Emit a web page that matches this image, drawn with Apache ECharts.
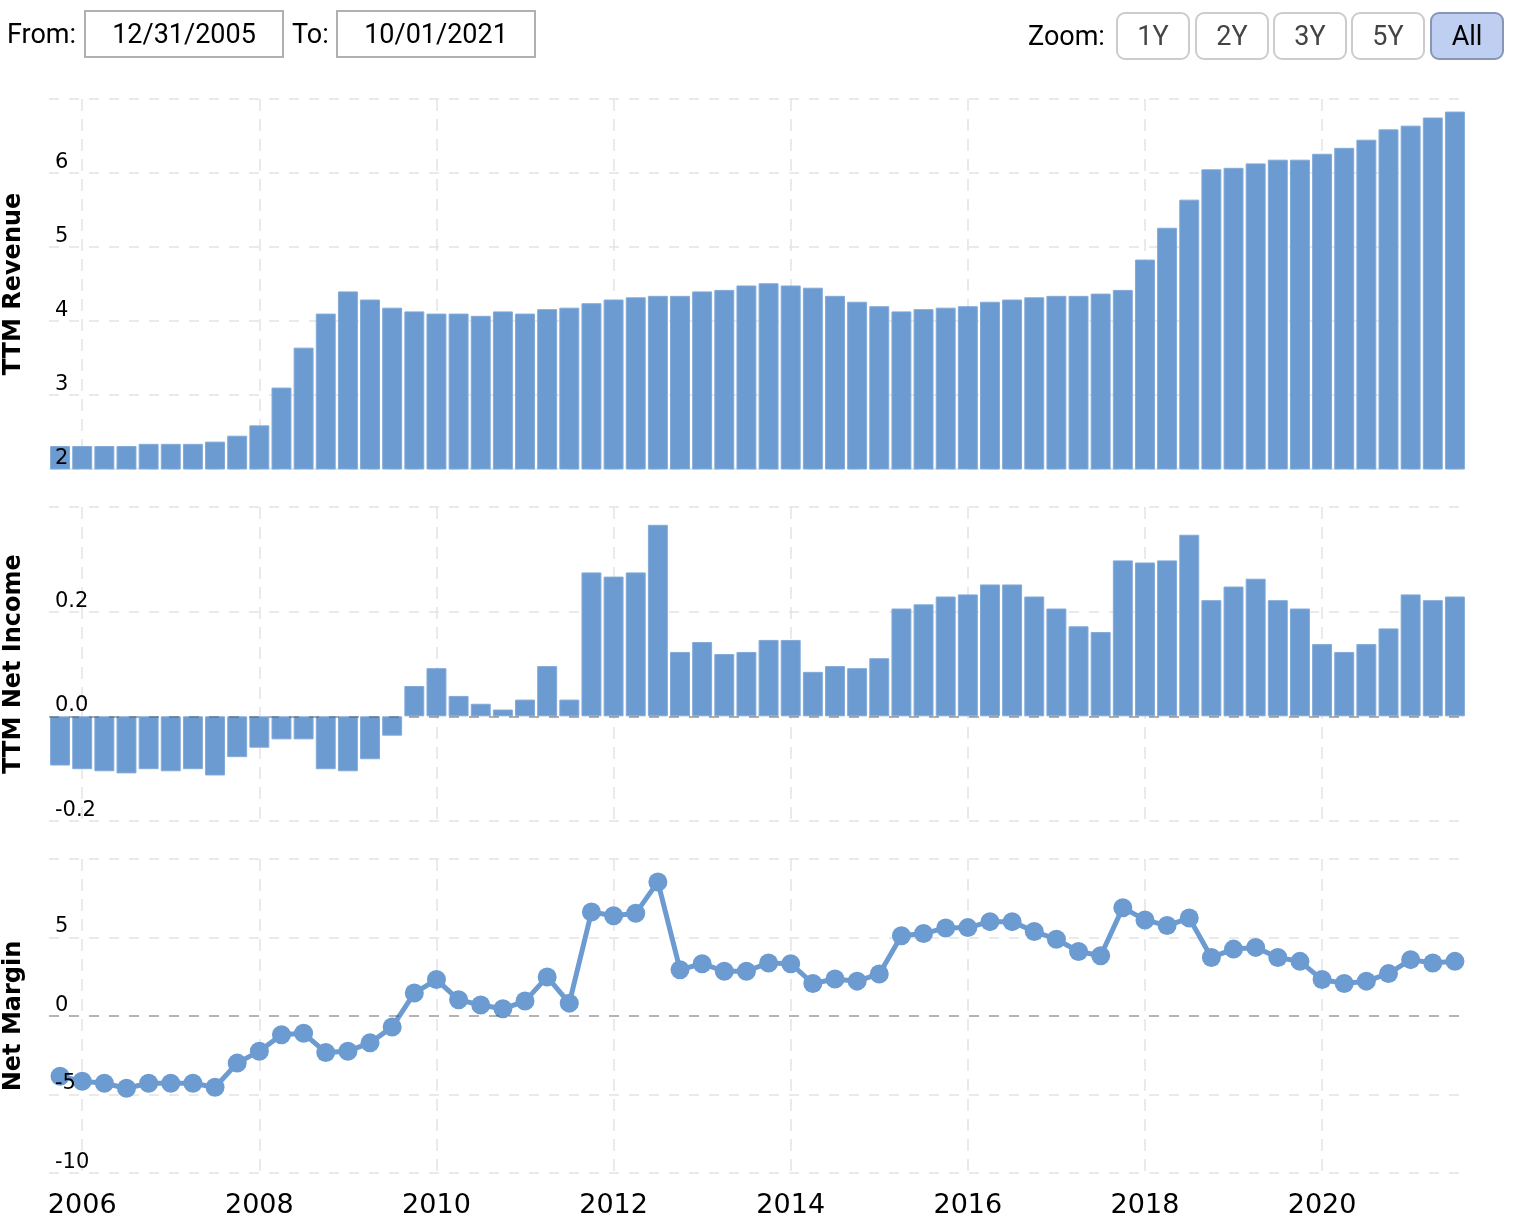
<!DOCTYPE html>
<html><head><meta charset="utf-8">
<script src="https://cdn.jsdelivr.net/npm/echarts@6/dist/echarts.min.js"></script>
<style>html,body{margin:0;padding:0;background:#fff}#c{width:1518px;height:1218px}</style>
</head><body><div id="c"></div>
<script>
const quarters = [
"2005-09-30","2005-12-31",
"2006-03-31","2006-06-30","2006-09-30","2006-12-31",
"2007-03-31","2007-06-30","2007-09-30","2007-12-31",
"2008-03-31","2008-06-30","2008-09-30","2008-12-31",
"2009-03-31","2009-06-30","2009-09-30","2009-12-31",
"2010-03-31","2010-06-30","2010-09-30","2010-12-31",
"2011-03-31","2011-06-30","2011-09-30","2011-12-31",
"2012-03-31","2012-06-30","2012-09-30","2012-12-31",
"2013-03-31","2013-06-30","2013-09-30","2013-12-31",
"2014-03-31","2014-06-30","2014-09-30","2014-12-31",
"2015-03-31","2015-06-30","2015-09-30","2015-12-31",
"2016-03-31","2016-06-30","2016-09-30","2016-12-31",
"2017-03-31","2017-06-30","2017-09-30","2017-12-31",
"2018-03-31","2018-06-30","2018-09-30","2018-12-31",
"2019-03-31","2019-06-30","2019-09-30","2019-12-31",
"2020-03-31","2020-06-30","2020-09-30","2020-12-31",
"2021-03-31","2021-06-30"];

const revenue = [2.31,2.31,2.31,2.31,2.34,2.34,2.34,2.37,2.45,2.59,
3.10,3.64,4.10,4.40,4.29,4.18,4.13,4.10,4.10,4.07,
4.13,4.10,4.16,4.18,4.24,4.29,4.32,4.34,4.34,4.40,
4.42,4.48,4.51,4.48,4.45,4.34,4.26,4.20,4.13,4.16,
4.18,4.20,4.26,4.29,4.32,4.34,4.34,4.37,4.42,4.83,
5.26,5.64,6.05,6.07,6.13,6.18,6.18,6.26,6.34,6.45,
6.59,6.64,6.75,6.83];

const netIncome = [-0.094,-0.101,-0.105,-0.109,-0.101,-0.105,-0.101,-0.113,-0.078,-0.060,
-0.044,-0.044,-0.101,-0.105,-0.082,-0.037,0.058,0.092,0.039,0.024,
0.013,0.032,0.096,0.032,0.275,0.267,0.275,0.366,0.123,0.142,
0.119,0.123,0.146,0.146,0.085,0.096,0.092,0.111,0.206,0.214,
0.229,0.233,0.252,0.252,0.229,0.206,0.172,0.161,0.298,0.294,
0.298,0.347,0.222,0.248,0.263,0.222,0.206,0.138,0.123,0.138,
0.168,0.233,0.222,0.229];

const netMargin = [-3.84,-4.16,-4.28,-4.60,-4.28,-4.28,-4.28,-4.54,-3.00,-2.24,
-1.20,-1.10,-2.32,-2.24,-1.71,-0.70,1.46,2.32,1.03,0.70,
0.46,0.95,2.49,0.82,6.62,6.39,6.54,8.54,2.95,3.33,
2.85,2.85,3.38,3.33,2.07,2.36,2.22,2.68,5.11,5.25,
5.61,5.63,6.01,6.01,5.38,4.89,4.11,3.84,6.90,6.12,
5.76,6.24,3.73,4.26,4.37,3.73,3.48,2.32,2.07,2.22,
2.70,3.59,3.38,3.48];

const yearTickLabels = ["2006","2008","2010","2012","2014","2016","2018","2020"];
const zoomButtons = ["1Y","2Y","3Y","5Y","All"];
const fromDate = "12/31/2005", toDate = "10/01/2021";

const BLUE = '#6b9bd1';
const GRIDC = '#e3e3e3';
const FONT = 'DejaVu Sans';

function labelYear(v){ return String(+v.slice(0,4)+1); }
function isYearTick(idx, v){ return v.endsWith('-12-31') && yearTickLabels.includes(labelYear(v)); }

function xAx(i, showLabel){
  return {type:'category', gridIndex:i, data:quarters, boundaryGap:true,
    axisLine:{show:false}, axisTick:{show:false},
    axisLabel:{show:showLabel, interval:isYearTick, formatter:labelYear, fontSize:27, color:'#000', margin:19, fontFamily:FONT},
    splitLine:{show:true, interval:isYearTick, alignWithLabel:true, lineStyle:{color:GRIDC, width:1.5, type:[12,8]}}
  };
}
function yGridAx(i, min, max, step, name){
  return {type:'value', gridIndex:i, position:'left', min:min, max:max, interval:step,
    axisLine:{show:false}, axisTick:{show:false}, axisLabel:{show:false},
    splitLine:{show:true, lineStyle:{color:GRIDC, width:1.5, type:[10,10]}},
    name:name, nameLocation:'middle', nameGap:23,
    nameTextStyle:{fontSize:24, fontWeight:'bold', fontFamily:FONT, color:'#000'}};
}
function yLabAx(i, min, max, step, fmt){
  return {type:'value', gridIndex:i, position:'left', offset:0, min:min, max:max, interval:step, z:10,
    axisLine:{show:false}, axisTick:{show:false}, splitLine:{show:false},
    axisLabel:{inside:true, verticalAlign:'bottom', margin:6, padding:0, lineHeight:21, fontSize:21, color:'#000', fontFamily:FONT,
      formatter:function(v){ return v >= max - 1e-9 ? '' : fmt(v); }}};
}
const zeroLine = (col) => ({silent:true, symbol:['none','none'], label:{show:false},
  lineStyle:{color:col, type:[10,10], width:1.5}, data:[{yAxis:0}], animation:false});

const graphic = [];
function txt(x,y,t,align,col){ graphic.push({type:'text', x:x, y:y, z:100, style:{text:t, font:'27px Roboto', fill:col||'#000', align:align||'left', verticalAlign:'middle'}}); }
txt(7,36,'From:');
graphic.push({type:'rect', z:99, shape:{x:85,y:11,width:198,height:46}, style:{fill:'#fff', stroke:'#b0b0b0', lineWidth:2}});
txt(184,36,fromDate,'center');
txt(292,36,'To:');
graphic.push({type:'rect', z:99, shape:{x:337,y:11,width:198,height:46}, style:{fill:'#fff', stroke:'#b0b0b0', lineWidth:2}});
txt(436,36,toDate,'center');
txt(1028,38,'Zoom:');
const bx = [1117,1196,1274,1352,1431];
zoomButtons.forEach((b,i)=>{
  const sel = b === 'All';
  graphic.push({type:'rect', z:99, shape:{x:bx[i],y:13,width:72,height:46,r:8},
    style:{fill: sel ? '#bfcff2' : '#fff', stroke: sel ? '#8796b5' : '#cccccc', lineWidth:2}});
  txt(bx[i]+36,38,b,'center', sel ? '#000' : '#444');
});

const gridBase = {left:49, right:52, outerBoundsMode:'none', containLabel:false};
const chart = echarts.init(document.getElementById('c'), null, {renderer:'canvas'});
chart.setOption({
  animation:false,
  backgroundColor:'#fff',
  graphic: graphic,
  grid:[
    Object.assign({top:99, height:370}, gridBase),
    Object.assign({top:507, height:314}, gridBase),
    Object.assign({top:859, height:314}, gridBase)
  ],
  xAxis:[xAx(0,false), xAx(1,false), xAx(2,true)],
  yAxis:[
    yGridAx(0,2,7,1,'TTM Revenue'),
    yGridAx(1,-0.2,0.4,0.2,'TTM Net Income'),
    yGridAx(2,-10,10,5,'Net Margin'),
    yLabAx(0,2,7,1,v=>String(v)),
    yLabAx(1,-0.2,0.4,0.2,v=>Math.abs(v)<1e-9?'0.0':v.toFixed(1)),
    yLabAx(2,-10,10,5,v=>String(v))
  ],
  series:[
    {type:'bar', xAxisIndex:0, yAxisIndex:0, data:revenue, barCategoryGap:'10%',
      itemStyle:{color:BLUE, borderColor:'#82aad9', borderWidth:1}},
    {type:'bar', xAxisIndex:1, yAxisIndex:1, data:netIncome, barCategoryGap:'10%',
      itemStyle:{color:BLUE, borderColor:'#82aad9', borderWidth:1},
      markLine: zeroLine('rgba(60,60,60,0.45)')},
    {type:'line', xAxisIndex:2, yAxisIndex:2, data:netMargin, symbol:'circle', symbolSize:19,
      showSymbol:true, showAllSymbol:true,
      lineStyle:{color:BLUE, width:5}, itemStyle:{color:BLUE},
      markLine: zeroLine('rgba(0,0,0,0.3)')}
  ]
});
</script></body></html>
